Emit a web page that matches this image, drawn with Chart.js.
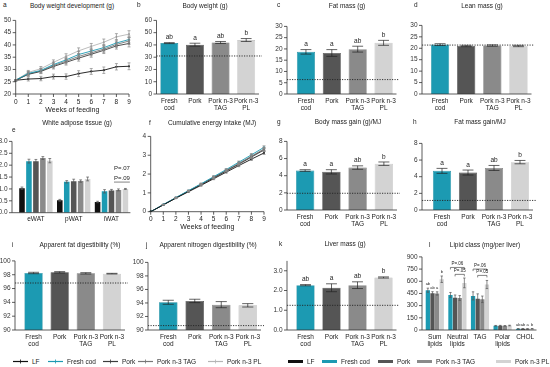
<!DOCTYPE html>
<html>
<head>
<meta charset="utf-8">
<script src="https://cdn.jsdelivr.net/npm/chart.js@4.4.1/dist/chart.umd.min.js"></script>
<style>
  body { margin: 0; background: #fff; }
  #fig { position: relative; width: 550px; height: 367px; overflow: hidden; font-family: "Liberation Sans", Arial, sans-serif; color: #222; }
  #fig canvas { position: absolute; }
  .lab { position: absolute; font-size: 6.5px; white-space: nowrap; }
  .ttl { position: absolute; font-size: 6.5px; white-space: nowrap; transform: translateX(-50%); }
  .leg { position: absolute; top: 358px; font-size: 6.5px; color: #222; white-space: nowrap; display: flex; align-items: center; }
  .leg svg { margin-right: 4px; }
</style>
</head>
<body>
<div id="fig"></div>
<script>
// ---- data ----
const weeks = ['0','1','2','3','4','5','6','7','8','9'];

// a: body weight development (g)
const bwLF   = [25.6, 26.1, 26.3, 27.1, 27.1, 28.3, 29.2, 29.7, 31.1, 31.3];
const bwCod  = [25.6, 28.4, 29.6, 32.0, 33.9, 36.1, 37.5, 38.9, 40.8, 42.2];
const bwPork = [25.6, 28.0, 29.2, 31.2, 32.9, 34.6, 36.2, 37.8, 39.6, 40.6];
const bwTAG  = [25.6, 28.2, 29.4, 31.6, 33.4, 35.3, 36.8, 38.3, 40.2, 41.6];
const bwPL   = [25.6, 28.8, 30.3, 32.9, 35.3, 37.6, 39.4, 41.1, 43.3, 44.4];
const bwErr  = [0.3, 0.8, 0.9, 1.0, 1.1, 1.2, 1.2, 1.3, 1.3, 1.4];

// f: cumulative energy intake (MJ)
const eiLF   = [0, 0.36, 0.72, 1.06, 1.40, 1.75, 2.10, 2.45, 2.79, 3.12];
const eiCod  = [0, 0.38, 0.75, 1.12, 1.48, 1.86, 2.24, 2.63, 3.02, 3.42];
const eiPork = [0, 0.37, 0.73, 1.09, 1.44, 1.80, 2.16, 2.52, 2.90, 3.28];
const eiTAG  = [0, 0.37, 0.74, 1.10, 1.46, 1.82, 2.19, 2.56, 2.94, 3.32];
const eiPL   = [0, 0.37, 0.74, 1.10, 1.46, 1.83, 2.20, 2.57, 2.95, 3.34];
const eiErr  = [0, 0.01, 0.02, 0.03, 0.04, 0.05, 0.05, 0.06, 0.07, 0.08];

// single-diet bar panels
const diets = ['Fresh cod', 'Pork', 'Pork n-3 TAG', 'Pork n-3 PL'];
const dietTicks = [['Fresh', 'cod'], 'Pork', ['Pork n-3', 'TAG'], ['Pork n-3', 'PL']];

const bodyWeight = [41.5, 40.2, 42.0, 44.0], bodyWeightErr = [0.4, 1.2, 0.8, 1.2], bodyWeightSig = ['ab', 'a', 'ab', 'b'], bodyWeightLF = 31;
const fatMass = [18.7, 18.2, 19.9, 22.7], fatMassErr = [1.0, 1.5, 1.3, 1.1], fatMassSig = ['a', 'a', 'ab', 'b'], fatMassLF = 6.4;
const leanMass = [21.6, 21.0, 21.2, 21.0], leanMassErr = [0.4, 0.3, 0.3, 0.3], leanMassLF = 21.4;
const gainPerMJ = [4.6, 4.45, 4.95, 5.4], gainPerMJErr = [0.1, 0.25, 0.2, 0.2], gainPerMJSig = ['a', 'a', 'ab', 'b'], gainPerMJLF = 1.95;
const fatGainPerMJ = [4.7, 4.5, 5.05, 5.75], fatGainPerMJErr = [0.3, 0.3, 0.3, 0.2], fatGainPerMJSig = ['a', 'a', 'ab', 'b'], fatGainPerMJLF = 1.15;
const fatDigest = [98.25, 98.35, 98.2, 98.15], fatDigestErr = [0.1, 0.1, 0.1, 0.05], fatDigestLF = 96.8;
const nDigest = [94.1, 94.3, 93.75, 93.65], nDigestErr = [0.3, 0.25, 0.45, 0.25], nDigestLF = 90.65;
const liverMass = [2.27, 2.14, 2.27, 2.66], liverMassErr = [0.03, 0.2, 0.17, 0.03], liverMassSig = ['ab', 'a', 'ab', 'b'], liverMassLF = 1.25;

// e: white adipose tissue (g)
const watDepots = ['eWAT', 'pWAT', 'iWAT'];
const watLF   = [1.03, 0.52, 0.45], watLFErr   = [0.05, 0.04, 0.03];
const watCod  = [2.17, 1.30, 0.90], watCodErr  = [0.08, 0.05, 0.07];
const watPork = [2.17, 1.32, 0.93], watPorkErr = [0.07, 0.09, 0.05];
const watTAG  = [2.30, 1.33, 0.96], watTAGErr  = [0.06, 0.05, 0.04];
const watPL   = [2.19, 1.42, 1.00], watPLErr   = [0.09, 0.08, 0.02];

// l: lipid class (mg/per liver)
const lipidClasses = [['Sum', 'lipids'], ['Neutral', 'lipids'], 'TAG', ['Polar', 'lipids'], 'CHOL'];
const lipCod  = [490, 432, 420, 52, 15], lipCodErr  = [25, 30, 50, 4, 2];
const lipPork = [452, 396, 385, 53, 15], lipPorkErr = [20, 35, 60, 4, 2];
const lipTAG  = [450, 394, 378, 51, 14], lipTAGErr  = [20, 30, 40, 3, 2];
const lipPL   = [625, 580, 560, 55, 16], lipPLErr   = [40, 60, 50, 4, 2];
const lipCodSig = ['ab', '', '', '', 'ab'], lipPorkSig = ['ab', '', '', '', 'ab'], lipTAGSig = ['a', '', '', '', 'a'], lipPLSig = ['b', '', '', '', 'b'];

// ---- styling ----
const FONT = '"Liberation Sans", Arial, sans-serif';
const INK = '#333';
const cLF = '#111', cCod = '#1c9ab2', cPork = '#555555', cTAG = '#8a8a8a', cPL = '#d3d3d3';
const dietColors = [cCod, cPork, cTAG, cPL];
const dietBorders = ['#168599', '#3d3d3d', '#727272', '#b9b9b9'];

Chart.defaults.font.family = FONT;
Chart.defaults.font.size = 6.5;
Chart.defaults.color = INK;

// error bars, significance letters, LF reference line, axes with a gap
const figPlugin = {
  id: 'fig',
  afterDatasetsDraw(chart, args, o) {
    const ctx = chart.ctx, a = chart.chartArea, xs = chart.scales.x, ys = chart.scales.y;
    const ax = a.left - (o.gap || 0);
    ctx.save();
    if (o.ref != null) {
      const y = ys.getPixelForValue(o.ref);
      ctx.strokeStyle = '#222'; ctx.lineWidth = 0.9; ctx.setLineDash([1.2, 1.3]);
      ctx.beginPath(); ctx.moveTo(ax, y); ctx.lineTo(a.right + 3, y); ctx.stroke();
      ctx.setLineDash([]);
    }
    chart.data.datasets.forEach((ds, i) => {
      if (!ds.err) return;
      chart.getDatasetMeta(i).data.forEach((el, j) => {
        const v = ds.data[j], e = ds.err[j];
        const y1 = ys.getPixelForValue(v + e), y0 = ys.getPixelForValue(v - e);
        const cw = ds.capW != null ? ds.capW : el.width * 0.3;
        if (e > 0) {
          ctx.strokeStyle = ds.errColor || '#222'; ctx.lineWidth = 0.7;
          ctx.beginPath();
          ctx.moveTo(el.x, y0); ctx.lineTo(el.x, y1);
          ctx.moveTo(el.x - cw, y1); ctx.lineTo(el.x + cw, y1);
          ctx.moveTo(el.x - cw, y0); ctx.lineTo(el.x + cw, y0);
          ctx.stroke();
        }
        if (ds.sig && ds.sig[j]) {
          ctx.fillStyle = '#222'; ctx.font = (ds.sigSize || 6.5) + 'px ' + FONT;
          ctx.textAlign = 'center'; ctx.textBaseline = 'bottom';
          ctx.fillText(ds.sig[j], el.x, y1 - 2);
        }
      });
    });
    // axes
    ctx.strokeStyle = INK; ctx.lineWidth = 0.8;
    ctx.beginPath();
    ctx.moveTo(ax, ys.getPixelForValue(ys.max)); ctx.lineTo(ax, a.bottom); ctx.lineTo(a.right, a.bottom);
    ys.ticks.forEach(t => { const y = ys.getPixelForValue(t.value); ctx.moveTo(ax - 3, y); ctx.lineTo(ax, y); });
    if (o.xTicks) xs.ticks.forEach((t, k) => { const x = xs.getPixelForTick(k); ctx.moveTo(x, a.bottom); ctx.lineTo(x, a.bottom + 3); });
    ctx.stroke();
    // text notes and brackets
    const barX = (g, d) => chart.getDatasetMeta(d).data[g].x;
    (o.notes || []).forEach(n => {
      const x = (barX(n.g, n.d[0]) + barX(n.g, n.d[1])) / 2, y = ys.getPixelForValue(n.v);
      ctx.fillStyle = '#222'; ctx.font = (n.size || 6) + 'px ' + FONT;
      ctx.textAlign = 'center'; ctx.textBaseline = 'bottom';
      ctx.fillText(n.text, x, y);
      if (n.underline) {
        const w = ctx.measureText(n.text).width;
        ctx.lineWidth = 0.6; ctx.beginPath(); ctx.moveTo(x - w / 2, y + 1); ctx.lineTo(x + w / 2, y + 1); ctx.stroke();
      }
    });
    (o.brackets || []).forEach(b => {
      const x0 = barX(b.g, b.d[0]), x1 = barX(b.g, b.d[1]), y = ys.getPixelForValue(b.v);
      ctx.lineWidth = 0.6;
      ctx.beginPath(); ctx.moveTo(x0, y + 2); ctx.lineTo(x0, y); ctx.lineTo(x1, y); ctx.lineTo(x1, y + 2); ctx.stroke();
      ctx.fillStyle = '#222'; ctx.font = '4.5px ' + FONT; ctx.textAlign = 'center'; ctx.textBaseline = 'bottom';
      ctx.fillText(b.text, (x0 + x1) / 2, y - 1);
    });
    ctx.restore();
  }
};

const fig = document.getElementById('fig');

// canvas rect [l, t, r, b] and wanted plot area [l, t, r, b]
function place(rect, area, config) {
  const c = document.createElement('canvas');
  c.width = rect[2] - rect[0]; c.height = rect[3] - rect[1];
  c.style.left = rect[0] + 'px'; c.style.top = rect[1] + 'px';
  fig.appendChild(c);
  const o = config.options;
  o.responsive = false; o.animation = false; o.devicePixelRatio = 1;
  o.layout = { padding: { top: area[1] - rect[1], right: rect[2] - area[2], left: 0, bottom: 0 } };
  o.scales.y.afterFit = s => { s.width = area[0] - rect[0]; };
  o.scales.x.afterFit = s => { s.height = rect[3] - area[3]; };
  o.plugins = Object.assign({ legend: { display: false }, tooltip: { enabled: false } }, o.plugins);
  config.plugins = [figPlugin];
  return new Chart(c, config);
}

function yScale(min, max, step, gap, dec) {
  return {
    min: min, max: max,
    grid: { display: false, drawTicks: false }, border: { display: false },
    ticks: { stepSize: step, padding: gap + 4.5, color: INK, callback: v => dec ? v.toFixed(dec) : v }
  };
}
function xCat() {
  return {
    type: 'category', offset: true,
    grid: { display: false, drawTicks: false }, border: { display: false },
    ticks: { padding: 3, maxRotation: 0, autoSkip: false, color: '#222', font: { size: 6.5 } }
  };
}

function dietBar(rect, area, gap, vals, errs, sig, ref, min, max, step, dec) {
  return place(rect, area, {
    type: 'bar',
    data: {
      labels: dietTicks,
      datasets: [{ data: vals, err: errs, sig: sig, backgroundColor: dietColors, borderColor: dietBorders, borderWidth: 0.6,
        barPercentage: 0.7, categoryPercentage: 1 }]
    },
    options: { scales: { x: xCat(), y: yScale(min, max, step, gap, dec) }, plugins: { fig: { gap: gap, ref: ref } } }
  });
}

function weekLines(rect, area, sets, err, min, max, step) {
  const cols = [cLF, cCod, '#3c3c3c', '#777777', '#b5b5b5'];
  const x = xCat();
  x.offset = false;
  x.ticks.padding = 4;
  x.title = { display: true, text: 'Weeks of feeding', padding: { top: 0, bottom: 0 }, font: { size: 7 }, color: '#222' };
  return place(rect, area, {
    type: 'line',
    data: {
      labels: weeks,
      datasets: sets.map((d, i) => ({ data: d, err: err, capW: 1.5, errColor: '#888', borderColor: cols[i], backgroundColor: cols[i],
        borderWidth: 0.9, pointRadius: 1.1, pointBorderWidth: 0, tension: 0 }))
    },
    options: { scales: { x: x, y: yScale(min, max, step, 0) }, plugins: { fig: { gap: 0, xTicks: true } } }
  });
}

// row 1
weekLines([0, 12, 135, 114], [15.7, 19, 129, 94], [bwLF, bwCod, bwPork, bwTAG, bwPL], bwErr, 20, 50, 5);
dietBar([130, 12, 275, 114], [156.5, 19, 259, 94], 0, bodyWeight, bodyWeightErr, bodyWeightSig, bodyWeightLF, 0, 60, 10);
dietBar([268, 12, 410, 114], [293, 19, 396.5, 94], 6, fatMass, fatMassErr, fatMassSig, fatMassLF, 0, 30, 5);
dietBar([400, 12, 550, 114], [427, 20, 531.5, 94], 5, leanMass, leanMassErr, null, leanMassLF, 0, 30, 5);

// row 2
place([0, 128, 135, 231], [17, 135.7, 130.4, 212.7], {
  type: 'bar',
  data: {
    labels: watDepots,
    datasets: [
      { data: watLF, err: watLFErr, backgroundColor: cLF },
      { data: watCod, err: watCodErr, backgroundColor: cCod },
      { data: watPork, err: watPorkErr, backgroundColor: cPork },
      { data: watTAG, err: watTAGErr, backgroundColor: cTAG },
      { data: watPL, err: watPLErr, backgroundColor: cPL }
    ].map(d => Object.assign(d, { errColor: '#555', capW: 1.4, barPercentage: 0.8, categoryPercentage: 0.92 }))
  },
  options: {
    scales: { x: xCat(), y: yScale(0, 3, 0.5, 5, 1) },
    plugins: { fig: { gap: 5, notes: [
      { text: 'P=.07', g: 2, d: [3, 4], v: 1.72, size: 6 },
      { text: 'P=.09', g: 2, d: [3, 4], v: 1.33, size: 6, underline: true }
    ] } }
  }
});
weekLines([130, 128, 275, 231], [150.7, 135.7, 264, 211.7], [eiLF, eiCod, eiPork, eiTAG, eiPL], eiErr, 0, 4, 1);
dietBar([268, 128, 410, 231], [292, 135, 397, 210], 5, gainPerMJ, gainPerMJErr, gainPerMJSig, gainPerMJLF, 0, 8, 2);
dietBar([400, 128, 550, 231], [429, 135, 533, 210], 7, fatGainPerMJ, fatGainPerMJErr, fatGainPerMJSig, fatGainPerMJLF, 0, 8, 2);

// row 3
dietBar([0, 247, 135, 350], [20.5, 255, 125, 330], 5.5, fatDigest, fatDigestErr, null, fatDigestLF, 90, 100, 2);
dietBar([130, 247, 275, 350], [155, 255, 261, 330], 7, nDigest, nDigestErr, null, nDigestLF, 90, 100, 2);
dietBar([268, 247, 410, 350], [292.5, 255, 396.5, 330], 5.5, liverMass, liverMassErr, liverMassSig, liverMassLF, 0, 3.5, 0.5, 1);
place([400, 247, 550, 350], [423.5, 254, 536.5, 330], {
  type: 'bar',
  data: {
    labels: lipidClasses,
    datasets: [
      { data: lipCod, err: lipCodErr, sig: lipCodSig, backgroundColor: cCod },
      { data: lipPork, err: lipPorkErr, sig: lipPorkSig, backgroundColor: cPork },
      { data: lipTAG, err: lipTAGErr, sig: lipTAGSig, backgroundColor: cTAG },
      { data: lipPL, err: lipPLErr, sig: lipPLSig, backgroundColor: cPL }
    ].map(d => Object.assign(d, { errColor: '#555', capW: 1.2, sigSize: 4, barPercentage: 0.92, categoryPercentage: 0.82 }))
  },
  options: {
    scales: { x: xCat(), y: yScale(0, 900, 150, 1.5) },
    plugins: { fig: { gap: 1.5, brackets: [
      { text: 'P=.06', g: 1, d: [0, 3], v: 770 },
      { text: 'P=.05', g: 1, d: [1, 3], v: 685 },
      { text: 'P=.06', g: 2, d: [0, 3], v: 750 },
      { text: 'P=.05', g: 2, d: [1, 3], v: 672 }
    ] } }
  }
});

// panel letters and titles
const panelTitles = [
  ['a', 3, 1, 'Body weight development (g)', 72, 2],
  ['b', 137, 1, 'Body weight (g)', 205, 2],
  ['c', 277, 1, 'Fat mass  (g)', 347, 2],
  ['d', 414, 1, 'Lean mass (g)', 482, 2],
  ['e', 12, 126, 'White adipose tissue (g)', 77, 119],
  ['f', 149, 119, 'Cumulative energy intake (MJ)', 212, 119],
  ['g', 277, 118, 'Body mass gain (g)/MJ', 348, 118],
  ['h', 413, 118, 'Fat mass gain/MJ', 480, 118],
  ['i', 12, 241, 'Apparent fat digestibility (%)', 80, 241],
  ['j', 146, 241, 'Apparent nitrogen digestibility (%)', 208, 241],
  ['k', 279, 240, 'Liver mass (g)', 345, 240],
  ['l', 429, 241, 'Lipid class (mg/per liver)', 485, 241]
];
panelTitles.forEach(p => {
  const l = document.createElement('div'); l.className = 'lab'; l.textContent = p[0];
  l.style.left = p[1] + 'px'; l.style.top = p[2] + 'px'; fig.appendChild(l);
  const t = document.createElement('div'); t.className = 'ttl'; t.textContent = p[3];
  t.style.left = p[4] + 'px'; t.style.top = p[5] + 'px'; fig.appendChild(t);
});

// legends (line style for the week panels, block style for bar panels)
const legendNames = ['LF'].concat(diets);
const legendLineCols = [cLF, cCod, '#3c3c3c', '#777777', '#b5b5b5'];
const legendBarCols = [cLF, cCod, cPork, cTAG, cPL];
const lineLegX = [13, 48, 103, 138, 208];
const barLegX = [288, 322, 378, 417, 496];
legendNames.forEach((n, i) => {
  const a = document.createElement('div'); a.className = 'leg'; a.style.left = lineLegX[i] + 'px';
  a.innerHTML = '<svg width="15" height="7"><line x1="0" y1="3.5" x2="15" y2="3.5" stroke="' + legendLineCols[i] + '" stroke-width="1.2"/>' +
    '<line x1="7.5" y1="1.5" x2="7.5" y2="5.5" stroke="' + legendLineCols[i] + '" stroke-width="0.8"/></svg>' + n;
  fig.appendChild(a);
  const b = document.createElement('div'); b.className = 'leg'; b.style.left = barLegX[i] + 'px';
  b.innerHTML = '<svg width="15" height="7"><rect x="0" y="2" width="15" height="3" fill="' + legendBarCols[i] + '"/></svg>' + n;
  fig.appendChild(b);
});
</script>
</body>
</html>
